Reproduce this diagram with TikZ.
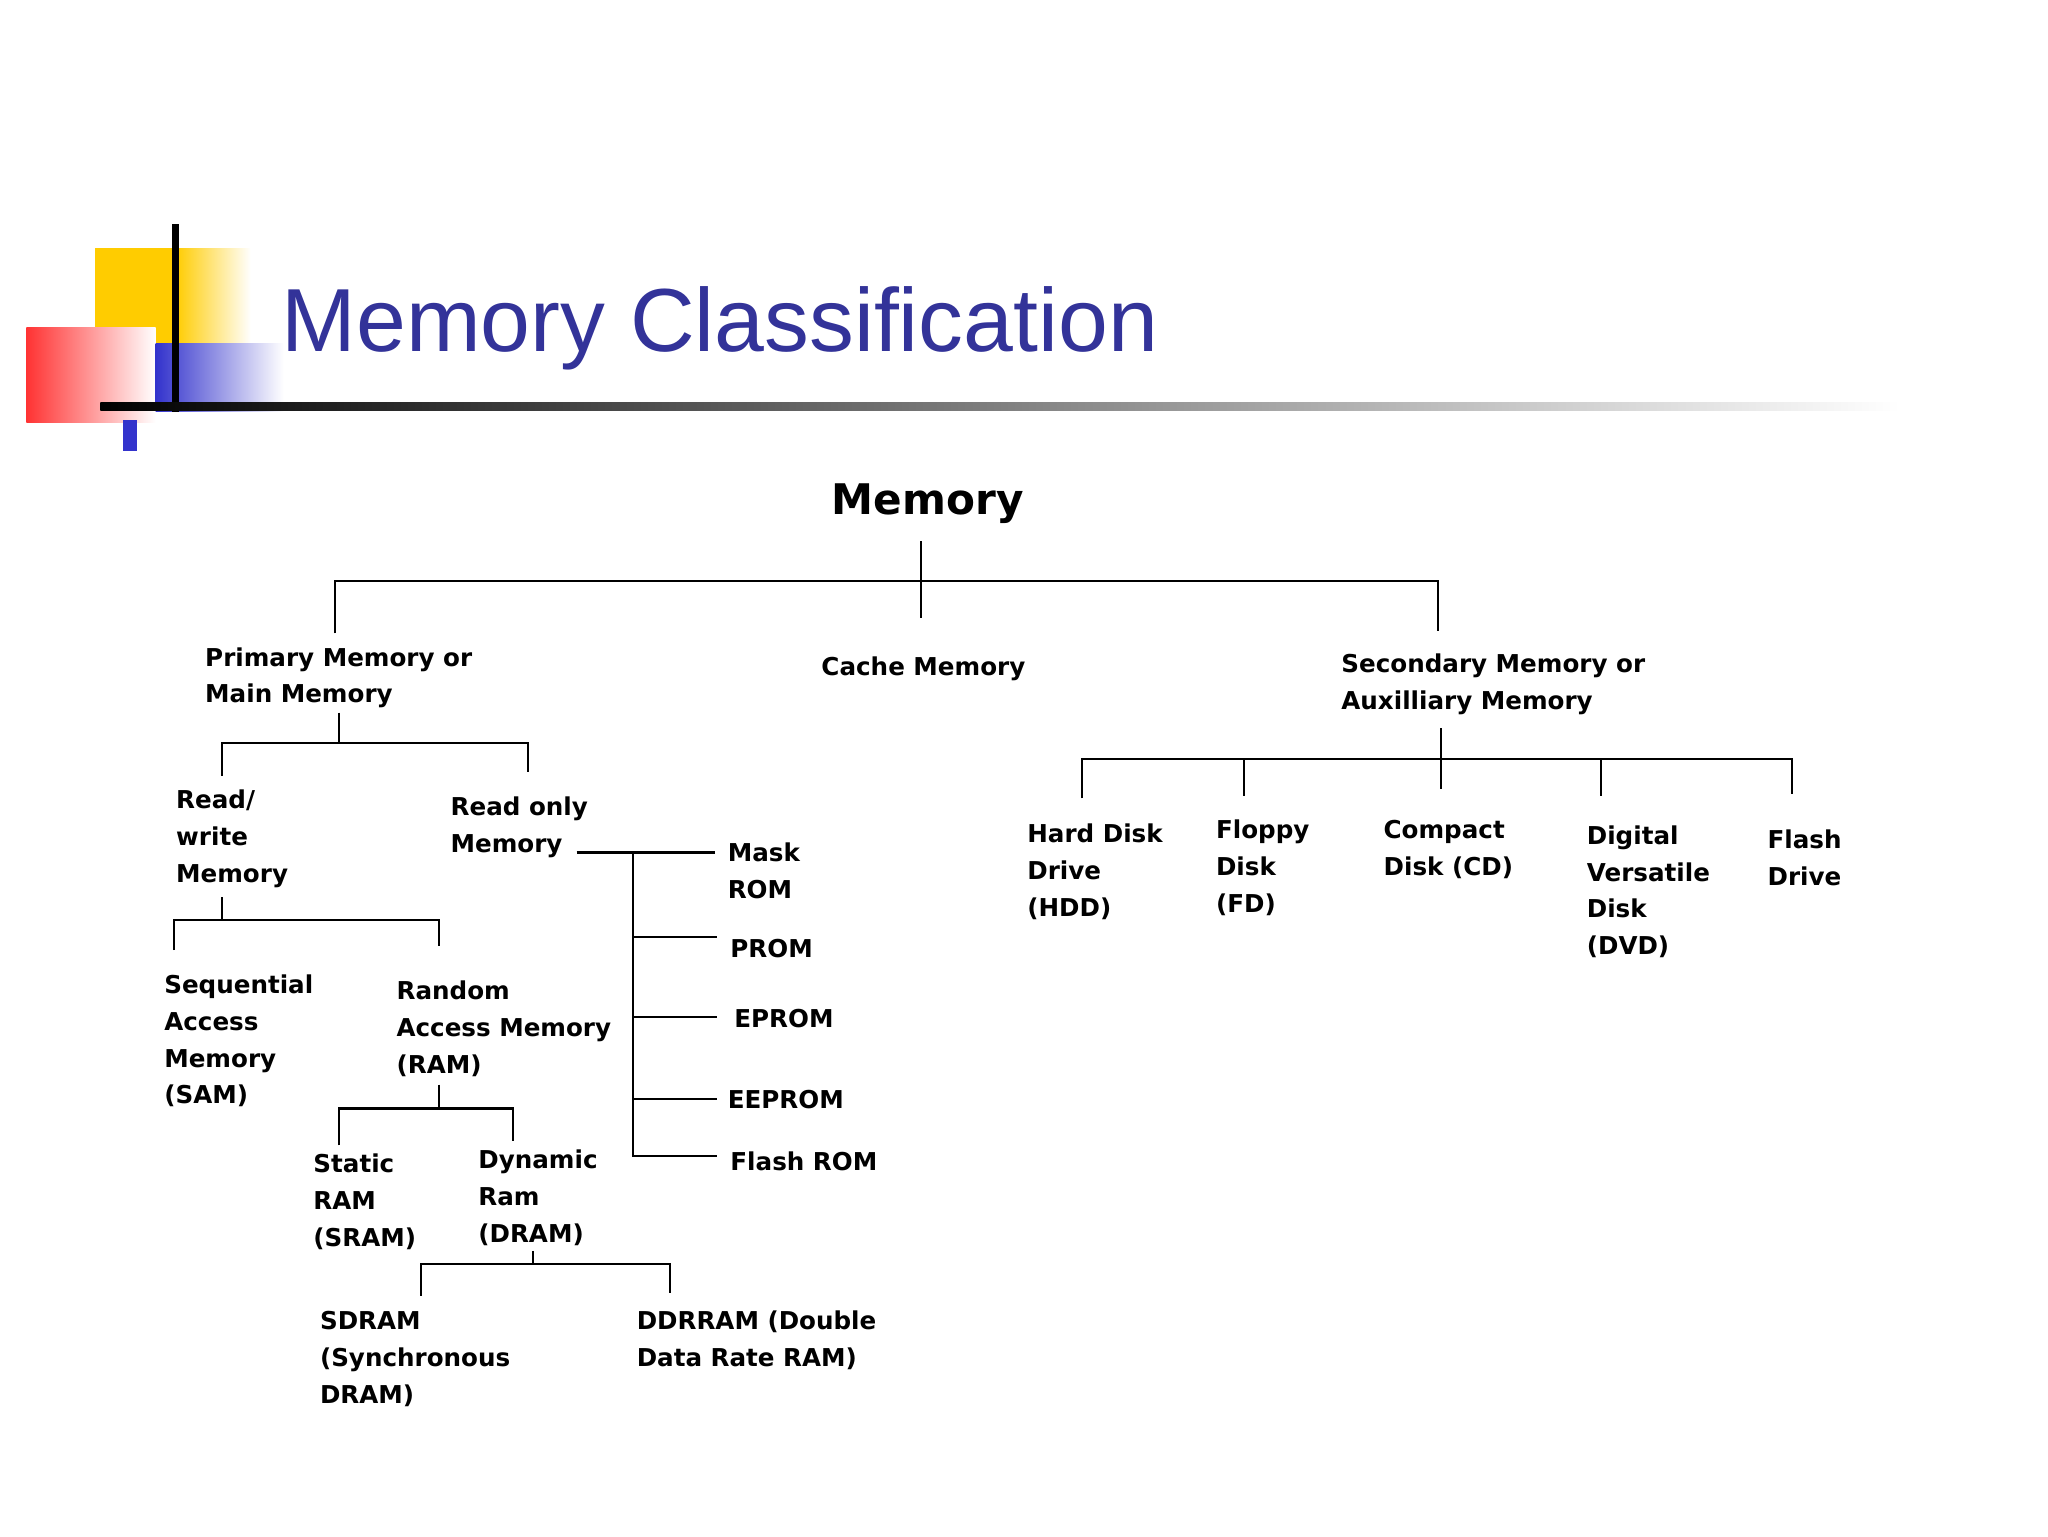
\documentclass[tikz,border=0pt]{standalone}
\usepackage{fontspec}
\setmainfont{DejaVu Sans}
\newfontfamily\titlefont{Liberation Sans}
\definecolor{titleblue}{RGB}{51,51,153}
\definecolor{logoyellow}{RGB}{255,204,0}
\definecolor{logoblue}{RGB}{51,51,204}
\begin{document}
\begin{tikzpicture}[x=0.013196cm,y=-0.013196cm,
  lbl/.style={anchor=north west,inner sep=0pt,align=left,font=\bfseries\fontsize{7}{10.5}\selectfont},
  tree/.style={black,line width=0.6pt}]
\useasboundingbox (0,0) rectangle (1552,1164);
%logo
\fill[logoyellow] (72,188) rectangle (133,262);
\shade[left color=logoyellow,right color=white] (133,188) rectangle (190,262);
\shade[left color=red!80,right color=white] (20,248) rectangle (118,320);
\shade[left color=logoblue,right color=white] (118,260) rectangle (215,312);
\fill[logoblue] (93,318) rectangle (104,342);
\draw[line width=2pt] (133,170) -- (133,312);
\shade[left color=black,right color=white] (76,305) rectangle (1440,311);
\node[anchor=base west,inner sep=0pt,text=titleblue,font=\titlefont\fontsize{25.5}{30}\selectfont] (title) at (213,266) {Memory Classification};
%labels
\node[font=\bfseries\fontsize{12}{14}\selectfont,inner sep=0pt] (mem) at (703,382) {Memory};
\node[lbl] (prim) at (155,490) {Primary Memory or\\Main Memory};
\node[lbl] (cache) at (622,497) {Cache Memory};
\node[lbl] (sec) at (1016,495) {Secondary Memory or\\Auxilliary Memory};
\node[lbl] (rw) at (133,598) {Read/\\write\\Memory};
\node[lbl] (ro) at (341,603) {Read only\\Memory};
\node[lbl] (mask) at (551,638) {Mask\\ROM};
\node[lbl] (prom) at (553,711) {PROM};
\node[lbl] (eprom) at (556,764) {EPROM};
\node[lbl] (eeprom) at (551,826) {EEPROM};
\node[lbl] (flashrom) at (553,872) {Flash ROM};
\node[lbl] (sam) at (124,738) {Sequential\\Access\\Memory\\(SAM)};
\node[lbl] (ram) at (300,743) {Random\\Access Memory\\(RAM)};
\node[lbl] (sram) at (237,874) {Static\\RAM\\(SRAM)};
\node[lbl] (dram) at (362,871) {Dynamic\\Ram\\(DRAM)};
\node[lbl] (sdram) at (242,993) {SDRAM\\(Synchronous\\DRAM)};
\node[lbl] (ddr) at (482,993) {DDRRAM (Double\\Data Rate RAM)};
\node[lbl] (hdd) at (778,624) {Hard Disk\\Drive\\(HDD)};
\node[lbl] (fd) at (921,621) {Floppy\\Disk\\(FD)};
\node[lbl] (cd) at (1048,621) {Compact\\Disk (CD)};
\node[lbl] (dvd) at (1202,625) {Digital\\Versatile\\Disk\\(DVD)};
\node[lbl] (fdrive) at (1339,628) {Flash\\Drive};
%tree lines
\draw[tree] (698,410) -- (698,468);
\draw[tree] (254,480) -- (254,440) -- (1090,440) -- (1090,478);
\draw[tree] (257,540) -- (257,563);
\draw[tree] (168,588) -- (168,563) -- (400,563) -- (400,585);
\draw[tree] (168,680) -- (168,697);
\draw[tree] (132,720) -- (132,697) -- (333,697) -- (333,717);
\draw[tree] (333,822) -- (333,840);
\draw[tree] (257,868) -- (257,840) -- (389,840) -- (389,865);
\draw[tree] (404,948) -- (404,958);
\draw[tree] (319,982) -- (319,958) -- (508,958) -- (508,980);
\draw[tree] (437,646) -- (542,646);
\draw[tree] (480,646) -- (480,876) -- (543,876);
\foreach \yy in {710,771,833} \draw[tree] (480,\yy) -- (543,\yy);
\draw[tree] (1092,552) -- (1092,598);
\draw[tree] (820,605) -- (820,575) -- (1358,575) -- (1358,602);
\foreach \xx in {943,1213} \draw[tree] (\xx,575) -- (\xx,603);
\end{tikzpicture}
\end{document}
